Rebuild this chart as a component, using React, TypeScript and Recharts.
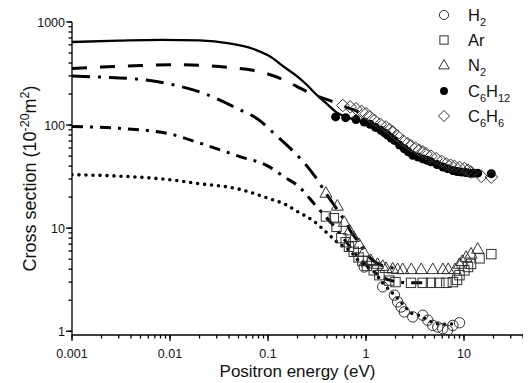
// @ts-nocheck
import React from "react";
import { ComposedChart, Line, Scatter, XAxis, YAxis, Legend } from "recharts";

// measured points [energy eV, cross section 1e-20 m^2]
const h2Points = [
  [0.96, 4.2], [1.48, 2.7], [1.95, 2.24], [2.1, 1.93], [2.28, 1.72], [2.46, 1.54],
  [3.0, 1.38], [3.8, 1.43], [4.27, 1.28], [4.8, 1.14], [5.4, 1.1], [6.07, 1.06],
  [6.8, 1.02], [7.7, 1.14], [9.0, 1.21],
];
const arPoints = [
  [0.39, 13], [0.47, 12.5], [0.5, 10.3], [0.56, 8.0], [0.62, 7.3], [0.67, 6.6],
  [0.75, 5.9], [0.84, 5.2], [0.92, 4.8], [1.02, 4.3], [1.2, 3.9], [1.37, 3.5],
  [1.73, 3.1], [2.0, 3.0], [2.88, 2.95], [3.79, 2.95], [4.6, 2.95], [5.6, 2.95],
  [6.6, 2.95], [7.7, 3.0], [8.5, 3.15], [9.0, 3.5], [10.1, 3.9], [11, 4.2],
  [11.8, 4.5], [14.4, 5.1], [19, 5.6],
];
const n2Points = [
  [0.39, 22], [0.51, 16.5], [0.6, 11.5], [0.68, 9.5], [0.75, 8.2], [0.85, 7],
  [0.95, 5.9], [1.12, 4.9], [1.31, 4.5], [1.48, 4.3], [1.6, 4.1], [1.87, 4.05],
  [2.1, 4.0], [2.37, 4.0], [2.9, 4.0], [3.66, 4.0], [4.8, 4.0], [6.1, 4.0],
  [6.9, 4.0], [8.1, 4.0], [9.0, 4.5], [9.6, 4.8], [10.5, 5.25], [11.8, 5.66],
  [13.8, 6.3],
];
const c6h12Points = [
  [0.49, 120], [0.62, 118], [0.79, 113], [0.96, 107], [1.1, 102], [1.25, 95],
  [1.42, 89], [1.55, 84], [1.66, 80], [1.8, 75], [1.95, 71], [2.2, 64],
  [2.46, 59], [2.7, 55], [3.0, 51], [3.4, 49], [3.8, 47], [4.2, 45.5],
  [4.6, 44], [5.3, 41.5], [6.1, 39.2], [6.8, 37.8], [7.7, 36.3], [8.5, 35.5],
  [9.4, 35], [10.4, 34.6], [11.4, 34.2], [12.5, 34.2], [13.8, 34.2], [19, 33.8],
];
const c6h6Points = [
  [0.58, 155], [0.69, 150], [0.79, 144], [0.9, 136], [1.0, 129], [1.1, 120],
  [1.22, 111], [1.4, 102], [1.6, 96], [1.75, 90], [1.87, 86], [2.1, 78],
  [2.4, 70], [2.65, 66], [2.88, 63], [3.2, 60], [3.5, 57], [3.8, 55],
  [4.1, 52.7], [4.6, 50], [5.2, 47.3], [5.9, 44.5], [6.6, 42], [7.3, 40.8],
  [8.0, 39.8], [9.0, 38.8], [10.1, 37.9], [11, 36.5], [11.8, 35], [15, 31.8],
  [19, 31.3],
];

// theory curves
const c6h12Curve = [
  [0.001, 640], [0.003, 660], [0.008, 672], [0.02, 662], [0.04, 620], [0.07, 550],
  [0.1, 475], [0.15, 360], [0.2, 295], [0.25, 245], [0.3, 205], [0.4, 160],
  [0.5, 133], [0.7, 116], [1, 105],
];
const c6h6Curve = [
  [0.001, 353], [0.002, 365], [0.005, 378], [0.01, 385], [0.02, 380], [0.04, 362],
  [0.07, 340], [0.1, 313], [0.15, 270], [0.2, 235], [0.3, 195], [0.45, 170],
  [0.6, 152], [0.9, 131],
];
const n2Curve = [
  [0.001, 299], [0.002, 292], [0.004, 283], [0.01, 250], [0.02, 210], [0.05, 143],
  [0.08, 113], [0.12, 80], [0.18, 56], [0.25, 40], [0.3, 32], [0.4, 21],
  [0.5, 15.5], [0.6, 12], [0.7, 9.3], [0.85, 7.2], [1, 5.7], [1.2, 4.8],
  [1.5, 4.3], [2, 4.1],
];
const arCurve = [
  [0.001, 97], [0.003, 93], [0.01, 82], [0.02, 67], [0.05, 50], [0.1, 40],
  [0.15, 31], [0.2, 26], [0.3, 17], [0.4, 12.5], [0.5, 9.8], [0.6, 7.8],
  [0.8, 5.5], [1, 4.4], [1.3, 3.6], [1.7, 3.15], [2.2, 3.0], [3, 2.95], [4, 2.95],
];
const h2Curve = [
  [0.001, 33], [0.003, 32], [0.01, 29.5], [0.02, 27], [0.05, 24], [0.1, 19.5],
  [0.15, 17], [0.2, 14.5], [0.3, 11.5], [0.4, 9], [0.5, 7.4], [0.7, 5.9],
  [0.9, 4.5], [1.2, 3.8], [1.5, 2.9], [1.9, 2.3], [2.3, 1.9], [2.9, 1.5],
  [3.5, 1.42], [4.2, 1.3], [5.2, 1.19], [6, 1.17], [7, 1.17], [8.3, 1.2],
];

const xDecades = [0.001, 0.01, 0.1, 1, 10];
const yDecades = [1, 10, 100];
const xMax = 40;

const legendItems = [
  { kind: "circle", base: ["H"], subs: ["2"] },
  { kind: "square", base: ["Ar"], subs: [""] },
  { kind: "triangle", base: ["N"], subs: ["2"] },
  { kind: "dot", base: ["C", "H"], subs: ["6", "12"] },
  { kind: "diamond", base: ["C", "H"], subs: ["6", "6"] },
];

const FONT = "'Liberation Sans', Arial, Helvetica, sans-serif";
const MINOR = 3.5;
const MAJOR = 6;
const toPts = (arr) => arr.map(([x, y]) => ({ x, y }));

const withMinors = (decades) =>
  decades.flatMap((d) => [1, 2, 3, 4, 5, 6, 7, 8, 9].map((m) => +(m * d).toPrecision(3)));
const xTicks = withMinors(xDecades).filter((v) => v <= xMax);
const yTicks = [...withMinors(yDecades), 1000];
const isMajor = (v) => Math.abs(Math.log10(v) - Math.round(Math.log10(v))) < 1e-9;

const marker = (kind, cx, cy, k = 1) => {
  const s = "#333";
  switch (kind) {
    case "circle":
      return <circle cx={cx} cy={cy} r={5.2 * k} fill="none" stroke={s} strokeWidth={1} />;
    case "square":
      return <rect x={cx - 4.7 * k} y={cy - 4.7 * k} width={9.4 * k} height={9.4 * k} fill="none" stroke={s} strokeWidth={1} />;
    case "triangle":
      return (
        <polygon
          points={`${cx},${cy - 6.2 * k} ${cx + 6 * k},${cy + 4.4 * k} ${cx - 6 * k},${cy + 4.4 * k}`}
          fill="none" stroke={s} strokeWidth={1}
        />
      );
    case "dot":
      return <circle cx={cx} cy={cy} r={4.5 * k} fill="#000" />;
    case "diamond":
      return (
        <polygon
          points={`${cx},${cy - 6.3 * k} ${cx + 6.3 * k},${cy} ${cx},${cy + 6.3 * k} ${cx - 6.3 * k},${cy}`}
          fill="none" stroke={s} strokeWidth={1}
        />
      );
    default:
      return null;
  }
};

// recharts draws the short (minor) tick; majors get a longer line and a label
const XTick = ({ x, y, payload }) => {
  const v = payload.value;
  if (!isMajor(v)) return <g />;
  const axisY = y - MINOR;
  return (
    <g>
      <line x1={x} x2={x} y1={axisY} y2={axisY + MAJOR} stroke="#000" strokeWidth={1.3} />
      <text x={x} y={axisY + 22.5} textAnchor="middle" fontSize={12.5} fontFamily={FONT} fill="#111">
        {String(v)}
      </text>
    </g>
  );
};

const YTick = ({ x, y, payload }) => {
  const v = payload.value;
  if (!isMajor(v)) return <g />;
  const axisX = x + MINOR;
  return (
    <g>
      <line x1={axisX} x2={axisX - MAJOR} y1={y} y2={y} stroke="#000" strokeWidth={1.3} />
      <text x={axisX - 7} y={y + 4.5} textAnchor="end" fontSize={12.5} fontFamily={FONT} fill="#111">
        {String(v)}
      </text>
    </g>
  );
};

const XTitle = (props) => {
  const vb = props.viewBox || { x: 64, y: 327, width: 451, height: 40 };
  return (
    <text x={vb.x + vb.width / 2} y={vb.y + 42} textAnchor="middle" fontSize={17} fontFamily={FONT} fill="#111">
      Positron energy (eV)
    </text>
  );
};

const YTitle = (props) => {
  const vb = props.viewBox || { x: 14, y: 14, width: 50, height: 313 };
  const cx = vb.x + 14;
  const cy = vb.y + vb.height / 2;
  return (
    <text
      x={cx} y={cy} transform={`rotate(-90 ${cx} ${cy})`} textAnchor="middle"
      fontSize={18} fontFamily={FONT} fill="#111"
    >
      Cross section (10
      <tspan dy={-7} fontSize={12.5}>-20</tspan>
      <tspan dy={7}>m</tspan>
      <tspan dy={-7} fontSize={12.5}>2</tspan>
      <tspan dy={7}>)</tspan>
    </text>
  );
};

const subStyle = { fontSize: 11, position: "relative", top: 5, lineHeight: "10px" };

const renderLegend = () => (
  <div style={{ fontFamily: FONT, fontSize: 16.5, color: "#111" }}>
    {legendItems.map((it, i) => (
      <div key={i} style={{ display: "flex", alignItems: "center", height: 25.3 }}>
        <svg width={30} height={20} style={{ overflow: "visible" }}>
          {marker(it.kind, 15, 10, 0.88)}
        </svg>
        <span style={{ marginLeft: 9, lineHeight: "16px", whiteSpace: "nowrap" }}>
          {it.base.map((b, j) => (
            <React.Fragment key={j}>
              {b}
              {it.subs[j] && <span style={subStyle}>{it.subs[j]}</span>}
            </React.Fragment>
          ))}
        </span>
      </div>
    ))}
  </div>
);

const shapeOf = (kind) => (p) => marker(kind, p.cx, p.cy);

export default function App() {
  return (
    <ComposedChart width={523} height={375} margin={{ top: 14, right: 8, bottom: 8, left: 14 }}>
      <XAxis
        dataKey="x" type="number" scale="log" domain={[0.001, xMax]} allowDataOverflow
        ticks={xTicks} interval={0} tick={XTick} tickLine={{ stroke: "#000", strokeWidth: 1.3 }}
        tickSize={MINOR} tickMargin={0}
        axisLine={{ stroke: "#000", strokeWidth: 1.3 }} height={40}
        label={{ content: XTitle }}
      />
      <YAxis
        dataKey="y" type="number" scale="log" domain={[0.92, 1000]} allowDataOverflow
        ticks={yTicks} interval={0} tick={YTick} tickLine={{ stroke: "#000", strokeWidth: 1.3 }}
        tickSize={MINOR} tickMargin={0}
        axisLine={{ stroke: "#000", strokeWidth: 1.3 }} width={50}
        label={{ content: YTitle }}
      />
      <Line data={toPts(c6h12Curve)} dataKey="y" type="monotone" stroke="#000" strokeWidth={2.3}
        dot={false} activeDot={false} isAnimationActive={false} legendType="none" />
      <Line data={toPts(c6h6Curve)} dataKey="y" type="monotone" stroke="#000" strokeWidth={3}
        strokeDasharray="15 13" dot={false} activeDot={false} isAnimationActive={false} legendType="none" />
      <Line data={toPts(n2Curve)} dataKey="y" type="monotone" stroke="#000" strokeWidth={3}
        strokeDasharray="18 8 3 8" dot={false} activeDot={false} isAnimationActive={false} legendType="none" />
      <Line data={toPts(arCurve)} dataKey="y" type="monotone" stroke="#000" strokeWidth={3}
        strokeDasharray="11 7 3 7" dot={false} activeDot={false} isAnimationActive={false} legendType="none" />
      <Line data={toPts(h2Curve)} dataKey="y" type="monotone" stroke="#000" strokeWidth={3.6}
        strokeDasharray="0 7" strokeLinecap="round" dot={false} activeDot={false} isAnimationActive={false} legendType="none" />
      <Scatter data={toPts(h2Points)} dataKey="y" shape={shapeOf("circle")} isAnimationActive={false} />
      <Scatter data={toPts(arPoints)} dataKey="y" shape={shapeOf("square")} isAnimationActive={false} />
      <Scatter data={toPts(n2Points)} dataKey="y" shape={shapeOf("triangle")} isAnimationActive={false} />
      <Scatter data={toPts(c6h12Points)} dataKey="y" shape={shapeOf("dot")} isAnimationActive={false} />
      <Scatter data={toPts(c6h6Points)} dataKey="y" shape={shapeOf("diamond")} isAnimationActive={false} />
      <Legend
        content={renderLegend} layout="horizontal" verticalAlign="middle" align="center"
        wrapperStyle={{ left: 421, top: -6, width: 110, height: 130 }}
      />
    </ComposedChart>
  );
}
